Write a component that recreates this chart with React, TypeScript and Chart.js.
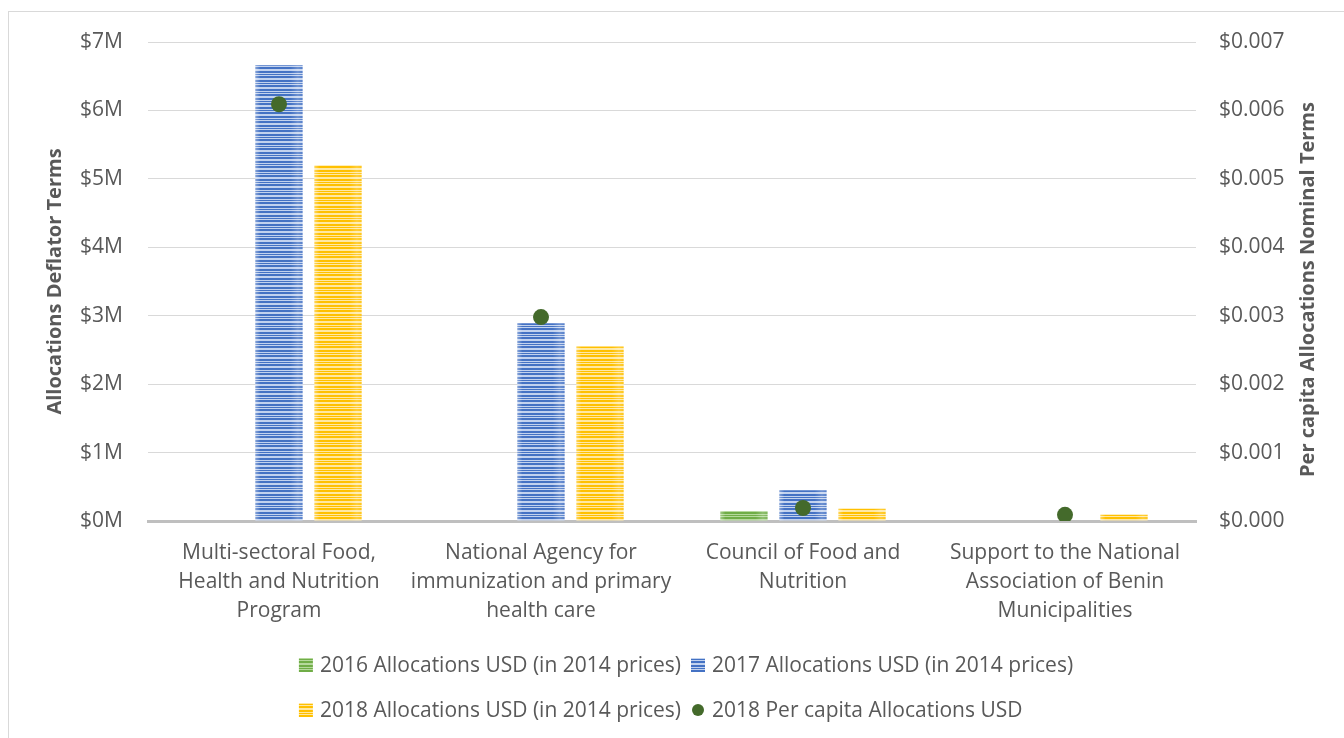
import React, { useEffect, useRef } from 'react';
import { Chart, registerables } from 'chart.js';

Chart.register(...registerables);

const categories: string[][] = [
  ['Multi-sectoral Food,', 'Health and Nutrition', 'Program'],
  ['National Agency for', 'immunization and primary', 'health care'],
  ['Council of Food and', 'Nutrition'],
  ['Support to the National', 'Association of Benin', 'Municipalities'],
];

const seriesLabels = [
  '2016 Allocations USD (in 2014 prices)',
  '2017 Allocations USD (in 2014 prices)',
  '2018 Allocations USD (in 2014 prices)',
  '2018 Per capita Allocations USD',
];

const alloc2016: (number | null)[] = [null, null, 146000, null];
const alloc2017: (number | null)[] = [6660000, 2890000, 450000, null];
const alloc2018: (number | null)[] = [5200000, 2550000, 180000, 100000];
const perCapita2018: number[] = [0.00609, 0.00298, 0.00019, 0.00009];

const leftAxisTitle = 'Allocations Deflator Terms';
const rightAxisTitle = 'Per capita Allocations Nominal Terms';

const FONT = "'Open Sans', 'Noto Sans', sans-serif";
const TEXT = '#595959';

function makePattern(dark: string, light: string): CanvasPattern | string {
  const c = document.createElement('canvas');
  c.width = 4;
  c.height = 9;
  const g = c.getContext('2d');
  if (!g) return dark;
  g.fillStyle = dark;
  g.fillRect(0, 0, 4, 9);
  g.fillStyle = light;
  [0, 3, 4, 7].forEach((y) => g.fillRect(0, y, 4, 1));
  return g.createPattern(c, 'repeat') || dark;
}

const barShadePlugin = {
  id: 'barShade',
  afterDatasetDraw(chart: any, args: any) {
    const meta = args.meta;
    if (meta.type !== 'bar') return;
    const ctx: CanvasRenderingContext2D = chart.ctx;
    ctx.save();
    meta.data.forEach((el: any) => {
      if (el.skip || el.y == null || isNaN(el.y)) return;
      const half = el.width / 2;
      const left = el.x - half;
      const right = el.x + half;
      const top = Math.min(el.y, el.base);
      const h = Math.abs(el.base - el.y);
      if (h <= 0) return;
      const gl = ctx.createLinearGradient(left, 0, left + 5, 0);
      gl.addColorStop(0, 'rgba(255,255,255,0.35)');
      gl.addColorStop(1, 'rgba(255,255,255,0)');
      ctx.fillStyle = gl;
      ctx.fillRect(left, top, 5, h);
      const gr = ctx.createLinearGradient(right - 12, 0, right, 0);
      gr.addColorStop(0, 'rgba(255,255,255,0)');
      gr.addColorStop(0.6, 'rgba(255,255,255,0.22)');
      gr.addColorStop(1, 'rgba(255,255,255,0.1)');
      ctx.fillStyle = gr;
      ctx.fillRect(right - 12, top, 12, h);
    });
    ctx.restore();
  },
};

const legendPlugin = {
  id: 'customLegend',
  afterDraw(chart: any) {
    const ctx: CanvasRenderingContext2D = chart.ctx;
    ctx.save();
    ctx.font = `21px ${FONT}`;
    ctx.textBaseline = 'middle';
    ctx.textAlign = 'left';
    const box = 14;
    const gap = 7;
    const colGap = 10;
    const ds = chart.data.datasets;
    const w = ds.map((d: any) => box + gap + ctx.measureText(d.label).width);
    const col1 = Math.max(w[0], w[2]);
    const col2 = Math.max(w[1], w[3]);
    const total = col1 + colGap + col2;
    const cx = 677;
    const x0 = cx - total / 2;
    const x1 = x0 + col1 + colGap;
    const rows = [653, 698];
    const pos = [
      [x0, rows[0]],
      [x1, rows[0]],
      [x0, rows[1]],
      [x1, rows[1]],
    ];
    ds.forEach((d: any, i: number) => {
      const [x, y] = pos[i];
      if (d.type === 'line') {
        ctx.fillStyle = d.pointBackgroundColor;
        ctx.beginPath();
        ctx.arc(x + box / 2, y, 6, 0, Math.PI * 2);
        ctx.fill();
      } else {
        ctx.fillStyle = d.backgroundColor;
        ctx.fillRect(x, y - box / 2, box, box);
      }
      ctx.fillStyle = TEXT;
      ctx.fillText(d.label, x + box + gap, y + 1);
    });
    ctx.restore();
  },
};

const rightTitlePlugin = {
  id: 'rightTitle',
  afterDraw(chart: any) {
    const ctx: CanvasRenderingContext2D = chart.ctx;
    const area = chart.chartArea;
    ctx.save();
    ctx.font = `bold 20px ${FONT}`;
    ctx.fillStyle = TEXT;
    ctx.textAlign = 'center';
    ctx.textBaseline = 'middle';
    ctx.translate(1299, (area.top + area.bottom) / 2 + 8);
    ctx.rotate(-Math.PI / 2);
    ctx.fillText(rightAxisTitle, 0, 0);
    ctx.restore();
  },
};

export default function App() {
  const ref = useRef<HTMLCanvasElement | null>(null);

  useEffect(() => {
    if (!ref.current) return;
    const green = makePattern('#70AD47', '#B5D99C');
    const blue = makePattern('#4472C4', '#C2D2EE');
    const yellow = makePattern('#FFC000', '#FFE8A3');

    const chart = new Chart(ref.current, {
      type: 'bar',
      data: {
        labels: categories,
        datasets: [
          {
            type: 'bar',
            label: seriesLabels[0],
            data: alloc2016,
            backgroundColor: green as any,
            yAxisID: 'y',
            order: 1,
            categoryPercentage: 0.676,
            barPercentage: 0.8,
          },
          {
            type: 'bar',
            label: seriesLabels[1],
            data: alloc2017,
            backgroundColor: blue as any,
            yAxisID: 'y',
            order: 1,
            categoryPercentage: 0.676,
            barPercentage: 0.8,
          },
          {
            type: 'bar',
            label: seriesLabels[2],
            data: alloc2018,
            backgroundColor: yellow as any,
            yAxisID: 'y',
            order: 1,
            categoryPercentage: 0.676,
            barPercentage: 0.8,
          },
          {
            type: 'line',
            label: seriesLabels[3],
            data: perCapita2018,
            yAxisID: 'y1',
            showLine: false,
            pointRadius: 8,
            pointHoverRadius: 8,
            pointBackgroundColor: '#446A2B',
            pointBorderColor: '#446A2B',
            pointBorderWidth: 0,
            borderColor: '#446A2B',
            backgroundColor: '#446A2B',
            order: 0,
          } as any,
        ],
      },
      options: {
        responsive: false,
        animation: false,
        layout: { padding: { top: 30, left: 0, right: 0, bottom: 0 } },
        plugins: {
          legend: { display: false },
          tooltip: { enabled: false },
        },
        scales: {
          x: {
            grid: { display: false, drawTicks: false },
            border: { display: true, color: '#BFBFBF', width: 3 },
            ticks: {
              color: TEXT,
              font: { family: FONT, size: 21, lineHeight: 1.38 },
              padding: 18,
              maxRotation: 0,
              autoSkip: false,
            },
            afterFit: (s: any) => {
              s.height = 217;
            },
          },
          y: {
            position: 'left',
            min: 0,
            max: 7000000,
            grid: {
              color: '#D9D9D9',
              drawTicks: true,
              tickLength: 25,
              tickColor: 'rgba(0,0,0,0)',
              lineWidth: 1,
            },
            border: { display: false },
            ticks: {
              stepSize: 1000000,
              padding: 0,
              color: TEXT,
              font: { family: FONT, size: 21 },
              callback: (v: any) => `$${Math.round(Number(v) / 1000000)}M`,
            },
            title: {
              display: true,
              text: leftAxisTitle,
              color: TEXT,
              font: { family: FONT, size: 20, weight: 'bold' },
              padding: { top: 34, bottom: 0 },
            },
            afterFit: (s: any) => {
              s.width = 139;
            },
          },
          y1: {
            position: 'right',
            min: 0,
            max: 0.007,
            grid: {
              display: true,
              drawOnChartArea: false,
              drawTicks: true,
              tickLength: 23,
              tickColor: 'rgba(0,0,0,0)',
              color: 'rgba(0,0,0,0)',
            },
            border: { display: false },
            ticks: {
              stepSize: 0.001,
              padding: 0,
              color: TEXT,
              font: { family: FONT, size: 21 },
              callback: (v: any) => `$${Number(v).toFixed(3)}`,
            },
            afterFit: (s: any) => {
              s.width = 148;
            },
          },
        },
      },
      plugins: [barShadePlugin, legendPlugin, rightTitlePlugin],
    });
    return () => chart.destroy();
  }, []);

  return (
    <div
      style={{
        position: 'fixed',
        left: 8,
        top: 11,
        width: 1345,
        height: 740,
        border: '1px solid #D9D9D9',
        boxSizing: 'border-box',
        background: '#fff',
      }}
    >
      <canvas ref={ref} width={1335} height={726} style={{ display: 'block' }} />
    </div>
  );
}
